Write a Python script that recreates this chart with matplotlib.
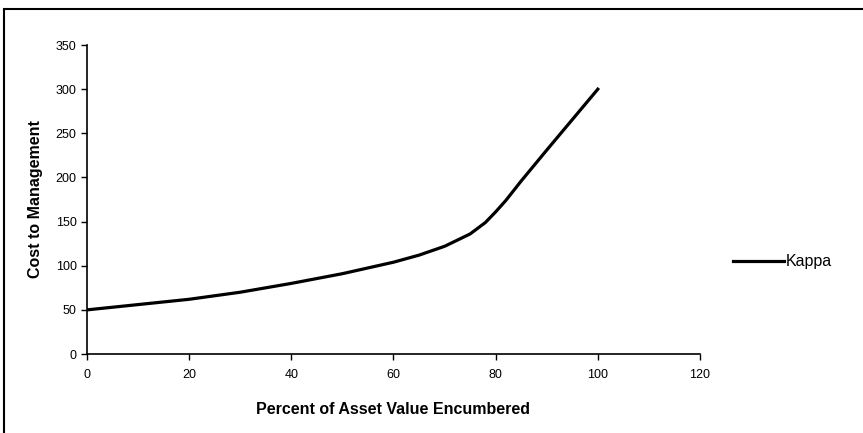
import matplotlib.pyplot as plt
from matplotlib.patches import Rectangle

# datos
porcentaje = [0, 10, 20, 30, 40, 50, 60, 65, 70, 75, 78, 80, 82, 85, 90, 100]
costo = [50, 56, 62, 70, 80, 91, 104, 112, 122, 136, 149, 161, 174, 196, 231, 300]
x_ticks = [0, 20, 40, 60, 80, 100, 120]
y_ticks = [0, 50, 100, 150, 200, 250, 300, 350]

plt.rcParams['font.family'] = ['Liberation Sans', 'DejaVu Sans']

fig = plt.figure(figsize=(8.63, 4.33), dpi=100)
ax = fig.add_axes([0.1008, 0.1824, 0.7103, 0.7136])

ax.plot(porcentaje, costo, color='black', linewidth=2.3, label='Kappa')

ax.set_xlim(0, 120)
ax.set_ylim(0, 350)
ax.set_xticks(x_ticks)
ax.set_yticks(y_ticks)
ax.tick_params(direction='out', length=4, width=1, labelsize=9)
ax.tick_params(axis='x', pad=7)
ax.spines['top'].set_visible(False)
ax.spines['right'].set_visible(False)
ax.spines['left'].set_linewidth(1.2)
ax.spines['bottom'].set_linewidth(1.2)

ax.set_xlabel('Percent of Asset Value Encumbered', fontsize=11.5, fontweight='bold', labelpad=15)
ax.set_ylabel('Cost to Management', fontsize=11.5, fontweight='bold', labelpad=9)

ax.legend(loc='center left', bbox_to_anchor=(1.03, 0.298), frameon=False,
          fontsize=11.5, handlelength=3.2, handletextpad=0.1)

# marco exterior de la figura
fig.patches.append(Rectangle((0.005, -0.05), 1.2, 1.029, transform=fig.transFigure,
                             fill=False, edgecolor='black', linewidth=1.5))

fig.savefig('out.png', dpi=100)
